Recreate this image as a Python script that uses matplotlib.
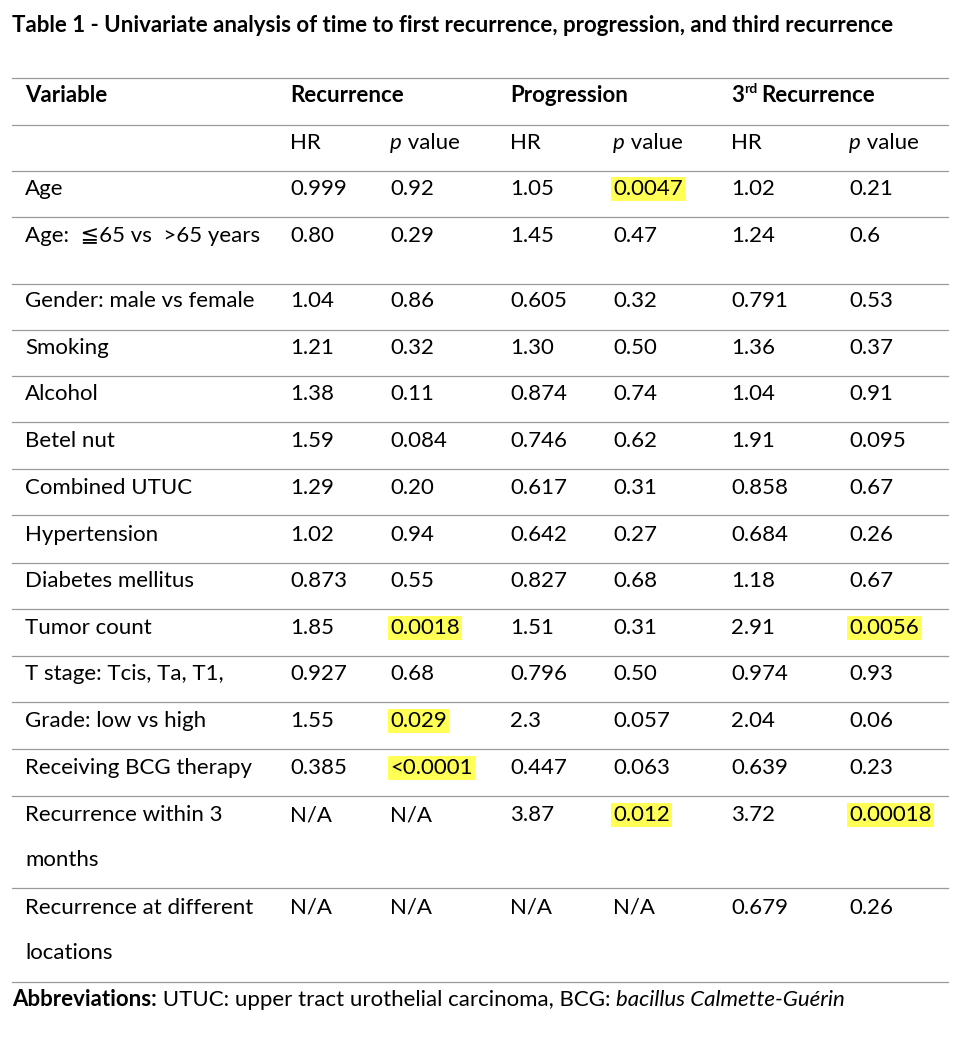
import matplotlib.pyplot as plt

plt.rcParams['font.family'] = ['Lato', 'DejaVu Sans', 'Noto Sans CJK JP']

title = "Table 1 - Univariate analysis of time to first recurrence, progression, and third recurrence"
variables = ["Age", "Age:  \u226665 vs  >65 years", "Gender: male vs female", "Smoking", "Alcohol",
             "Betel nut", "Combined UTUC", "Hypertension", "Diabetes mellitus", "Tumor count",
             "T stage: Tcis, Ta, T1,", "Grade: low vs high", "Receiving BCG therapy",
             "Recurrence within 3\nmonths", "Recurrence at different\nlocations"]
rec_hr = ["0.999", "0.80", "1.04", "1.21", "1.38", "1.59", "1.29", "1.02", "0.873", "1.85", "0.927", "1.55", "0.385", "N/A", "N/A"]
rec_p = ["0.92", "0.29", "0.86", "0.32", "0.11", "0.084", "0.20", "0.94", "0.55", "0.0018", "0.68", "0.029", "<0.0001", "N/A", "N/A"]
prog_hr = ["1.05", "1.45", "0.605", "1.30", "0.874", "0.746", "0.617", "0.642", "0.827", "1.51", "0.796", "2.3", "0.447", "3.87", "N/A"]
prog_p = ["0.0047", "0.47", "0.32", "0.50", "0.74", "0.62", "0.31", "0.27", "0.68", "0.31", "0.50", "0.057", "0.063", "0.012", "N/A"]
third_hr = ["1.02", "1.24", "0.791", "1.36", "1.04", "1.91", "0.858", "0.684", "1.18", "2.91", "0.974", "2.04", "0.639", "3.72", "0.679"]
third_p = ["0.21", "0.6", "0.53", "0.37", "0.91", "0.095", "0.67", "0.26", "0.67", "0.0056", "0.93", "0.06", "0.23", "0.00018", "0.26"]
highlight = {("rec_p", 9), ("rec_p", 11), ("rec_p", 12), ("prog_p", 0), ("prog_p", 13),
             ("third_p", 9), ("third_p", 13)}

row_y = [189, 236, 301, 348, 394, 441, 488, 535, 581, 628, 674, 721, 768, 815, 908]
line_y = [78, 125, 171, 217, 284, 330, 376, 422, 469, 515, 563, 609, 656, 702, 749, 796, 888, 982]
col_x = [25, 290, 390, 510, 613, 731, 849]
fs = 16
yellow = '#FFFF55'

fig = plt.figure(figsize=(9.72, 10.42), dpi=100)
ax = fig.add_axes([0, 0, 1, 1])
ax.set_xlim(0, 972)
ax.set_ylim(1042, 0)
ax.axis('off')
renderer = fig.canvas.get_renderer()


def text_after(x, y, parts):
    # draw text pieces one after another on the same line
    for s, kw in parts:
        t = ax.text(x, y, s, fontsize=kw.pop('size', fs), va='center', **kw)
        bb = t.get_window_extent(renderer)
        x += bb.width


ax.text(12, 25, title, fontsize=fs, fontweight='bold', va='center')
for y in line_y:
    ax.plot([12, 948], [y, y], color='#9a9a9a', lw=0.9)

ax.text(col_x[0], 96, "Variable", fontsize=fs, fontweight='bold', va='center')
ax.text(col_x[1], 96, "Recurrence", fontsize=fs, fontweight='bold', va='center')
ax.text(col_x[3], 96, "Progression", fontsize=fs, fontweight='bold', va='center')
t3 = ax.text(col_x[5], 96, "3", fontsize=fs, fontweight='bold', va='center')
w3 = t3.get_window_extent(renderer).width
trd = ax.text(col_x[5] + w3, 89, "rd", fontsize=10, fontweight='bold', va='center')
wrd = trd.get_window_extent(renderer).width
ax.text(col_x[5] + w3 + wrd + 4, 96, "Recurrence", fontsize=fs, fontweight='bold', va='center')
for i in (1, 3, 5):
    ax.text(col_x[i], 143, "HR", fontsize=fs, va='center')
    text_after(col_x[i + 1], 143, [("p", {'style': 'italic'}), ("\u00a0value", {})])

cols = [("var", variables), ("rec_hr", rec_hr), ("rec_p", rec_p), ("prog_hr", prog_hr),
        ("prog_p", prog_p), ("third_hr", third_hr), ("third_p", third_p)]
for c, (name, vals) in enumerate(cols):
    for r, v in enumerate(vals):
        kw = {}
        if (name, r) in highlight:
            kw['bbox'] = dict(facecolor=yellow, edgecolor='none', pad=1.5)
        for k, line in enumerate(v.split('\n')):
            ax.text(col_x[c], row_y[r] + 45 * k, line, fontsize=fs, va='center', **kw)

text_after(12, 1000, [("Abbreviations:", {'fontweight': 'bold'}),
                      (" UTUC: upper tract urothelial carcinoma, BCG: ", {}),
                      ("bacillus Calmette-Gu\u00e9rin", {'style': 'italic'})])

fig.savefig('out.png', dpi=100)
